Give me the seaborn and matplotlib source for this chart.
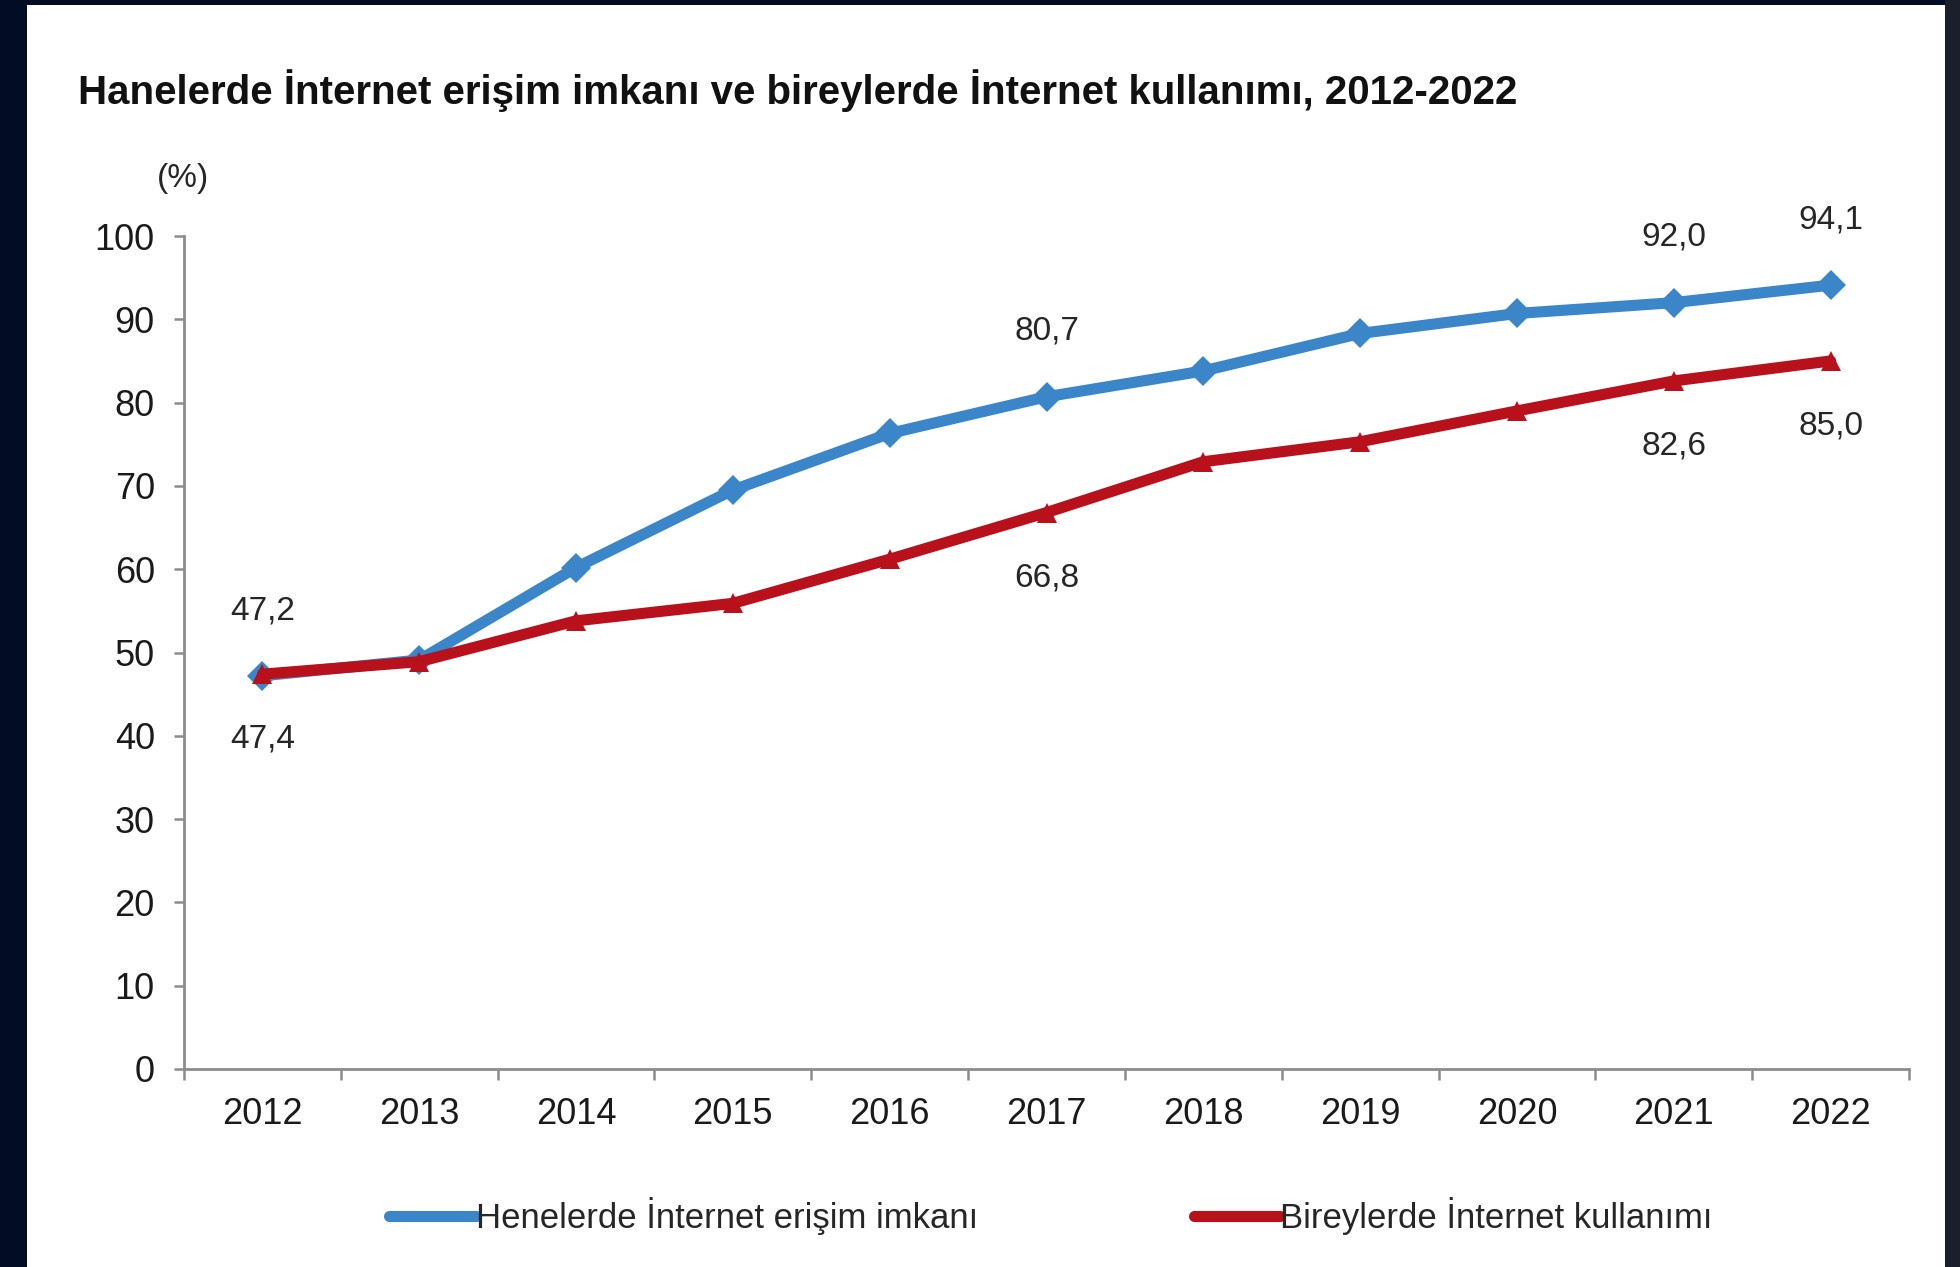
import numpy as np
import pandas as pd
import matplotlib.pyplot as plt
import seaborn as sns
from matplotlib.lines import Line2D
from matplotlib.patches import Rectangle

years = [2012, 2013, 2014, 2015, 2016, 2017, 2018, 2019, 2020, 2021, 2022]
household_access = [47.2, 49.1, 60.2, 69.5, 76.3, 80.7, 83.8, 88.3, 90.7, 92.0, 94.1]
individual_use = [47.4, 48.9, 53.8, 55.9, 61.2, 66.8, 72.9, 75.3, 79.0, 82.6, 85.0]
label_years = [2012, 2017, 2021, 2022]

series_names = ["Henelerde İnternet erişim imkanı", "Bireylerde İnternet kullanımı"]
title = "Hanelerde İnternet erişim imkanı ve bireylerde İnternet kullanımı, 2012-2022"

BLUE = "#3a86c8"
RED = "#b8111c"
GRAY = "#8c8c8c"

sns.set_theme(style="white")
plt.rcParams["font.family"] = ["Liberation Sans", "DejaVu Sans"]


def tr_fmt(v: float) -> str:
    return f"{v:.1f}".replace(".", ",")


def main() -> None:
    df = pd.DataFrame({
        "year": years * 2,
        "value": household_access + individual_use,
        "series": [series_names[0]] * len(years) + [series_names[1]] * len(years),
    })

    fig = plt.figure(figsize=(19.6, 12.67), dpi=100)
    fig.patch.set_facecolor("#020c24")
    # white panel of the screenshot
    fig.patches.append(Rectangle((27 / 1960, 0), (1945 - 27) / 1960, 1 - 5 / 1267,
                                 transform=fig.transFigure, facecolor="white",
                                 edgecolor="none", zorder=-10))
    fig.patches.append(Rectangle((1945 / 1960, 0), 15 / 1960, 1,
                                 transform=fig.transFigure, facecolor="#1a1f2b",
                                 edgecolor="none", zorder=-10))

    ax = fig.add_axes([184 / 1960, 1 - 1069 / 1267, (1909 - 184) / 1960, (1069 - 236) / 1267])
    ax.set_facecolor("none")

    sns.lineplot(
        data=df, x="year", y="value", hue="series", style="series",
        palette={series_names[0]: BLUE, series_names[1]: RED},
        markers={series_names[0]: "D", series_names[1]: "^"},
        dashes=False, linewidth=8, markersize=15, markeredgewidth=0,
        legend=False, ax=ax,
    )

    for yr, v in zip(years, household_access):
        if yr in label_years:
            ax.annotate(tr_fmt(v), (yr, v), xytext=(0, 47), textcoords="offset points",
                        ha="center", va="center", fontsize=24, color="#262626",
                        annotation_clip=False)
    for yr, v in zip(years, individual_use):
        if yr in label_years:
            ax.annotate(tr_fmt(v), (yr, v), xytext=(0, -47), textcoords="offset points",
                        ha="center", va="center", fontsize=24, color="#262626",
                        annotation_clip=False)

    ax.set_xlim(years[0] - 0.5, years[-1] + 0.5)
    ax.set_ylim(0, 100)
    ax.set_xticks(years)
    ax.set_xticks(np.arange(years[0] - 0.5, years[-1] + 1, 1), minor=True)
    ax.set_yticks(range(0, 101, 10))
    ax.set_xlabel("")
    ax.set_ylabel("")

    for side in ["top", "right"]:
        ax.spines[side].set_visible(False)
    for side in ["left", "bottom"]:
        ax.spines[side].set_color(GRAY)
        ax.spines[side].set_linewidth(2)

    ax.tick_params(axis="x", which="major", length=0, pad=20, labelsize=26, labelcolor="#1a1a1a")
    ax.tick_params(axis="x", which="minor", direction="out", length=8, width=1.8,
                   color=GRAY, bottom=True)
    ax.tick_params(axis="y", direction="out", length=7, width=1.8, color=GRAY,
                   pad=14, labelsize=26, labelcolor="#1a1a1a", left=True)

    fig.text(78 / 1960, 1 - 91 / 1267, title, fontsize=29, fontweight="bold",
             color="#111111", ha="left", va="center")
    fig.text(183 / 1960, 1 - 178 / 1267, "(%)", fontsize=24, color="#262626",
             ha="center", va="center")

    handles = [
        Line2D([], [], color=BLUE, linewidth=8, marker="D", markersize=4),
        Line2D([], [], color=RED, linewidth=8, marker="^", markersize=4),
    ]
    fig.legend(handles, series_names, loc="center", bbox_to_anchor=(1051 / 1960, 1 - 1216 / 1267),
               ncol=2, frameon=False, fontsize=25, handlelength=2.5, handletextpad=0.0,
               columnspacing=6.2)

    fig.savefig("out.png", dpi=100, facecolor=fig.get_facecolor())


if __name__ == "__main__":
    main()
